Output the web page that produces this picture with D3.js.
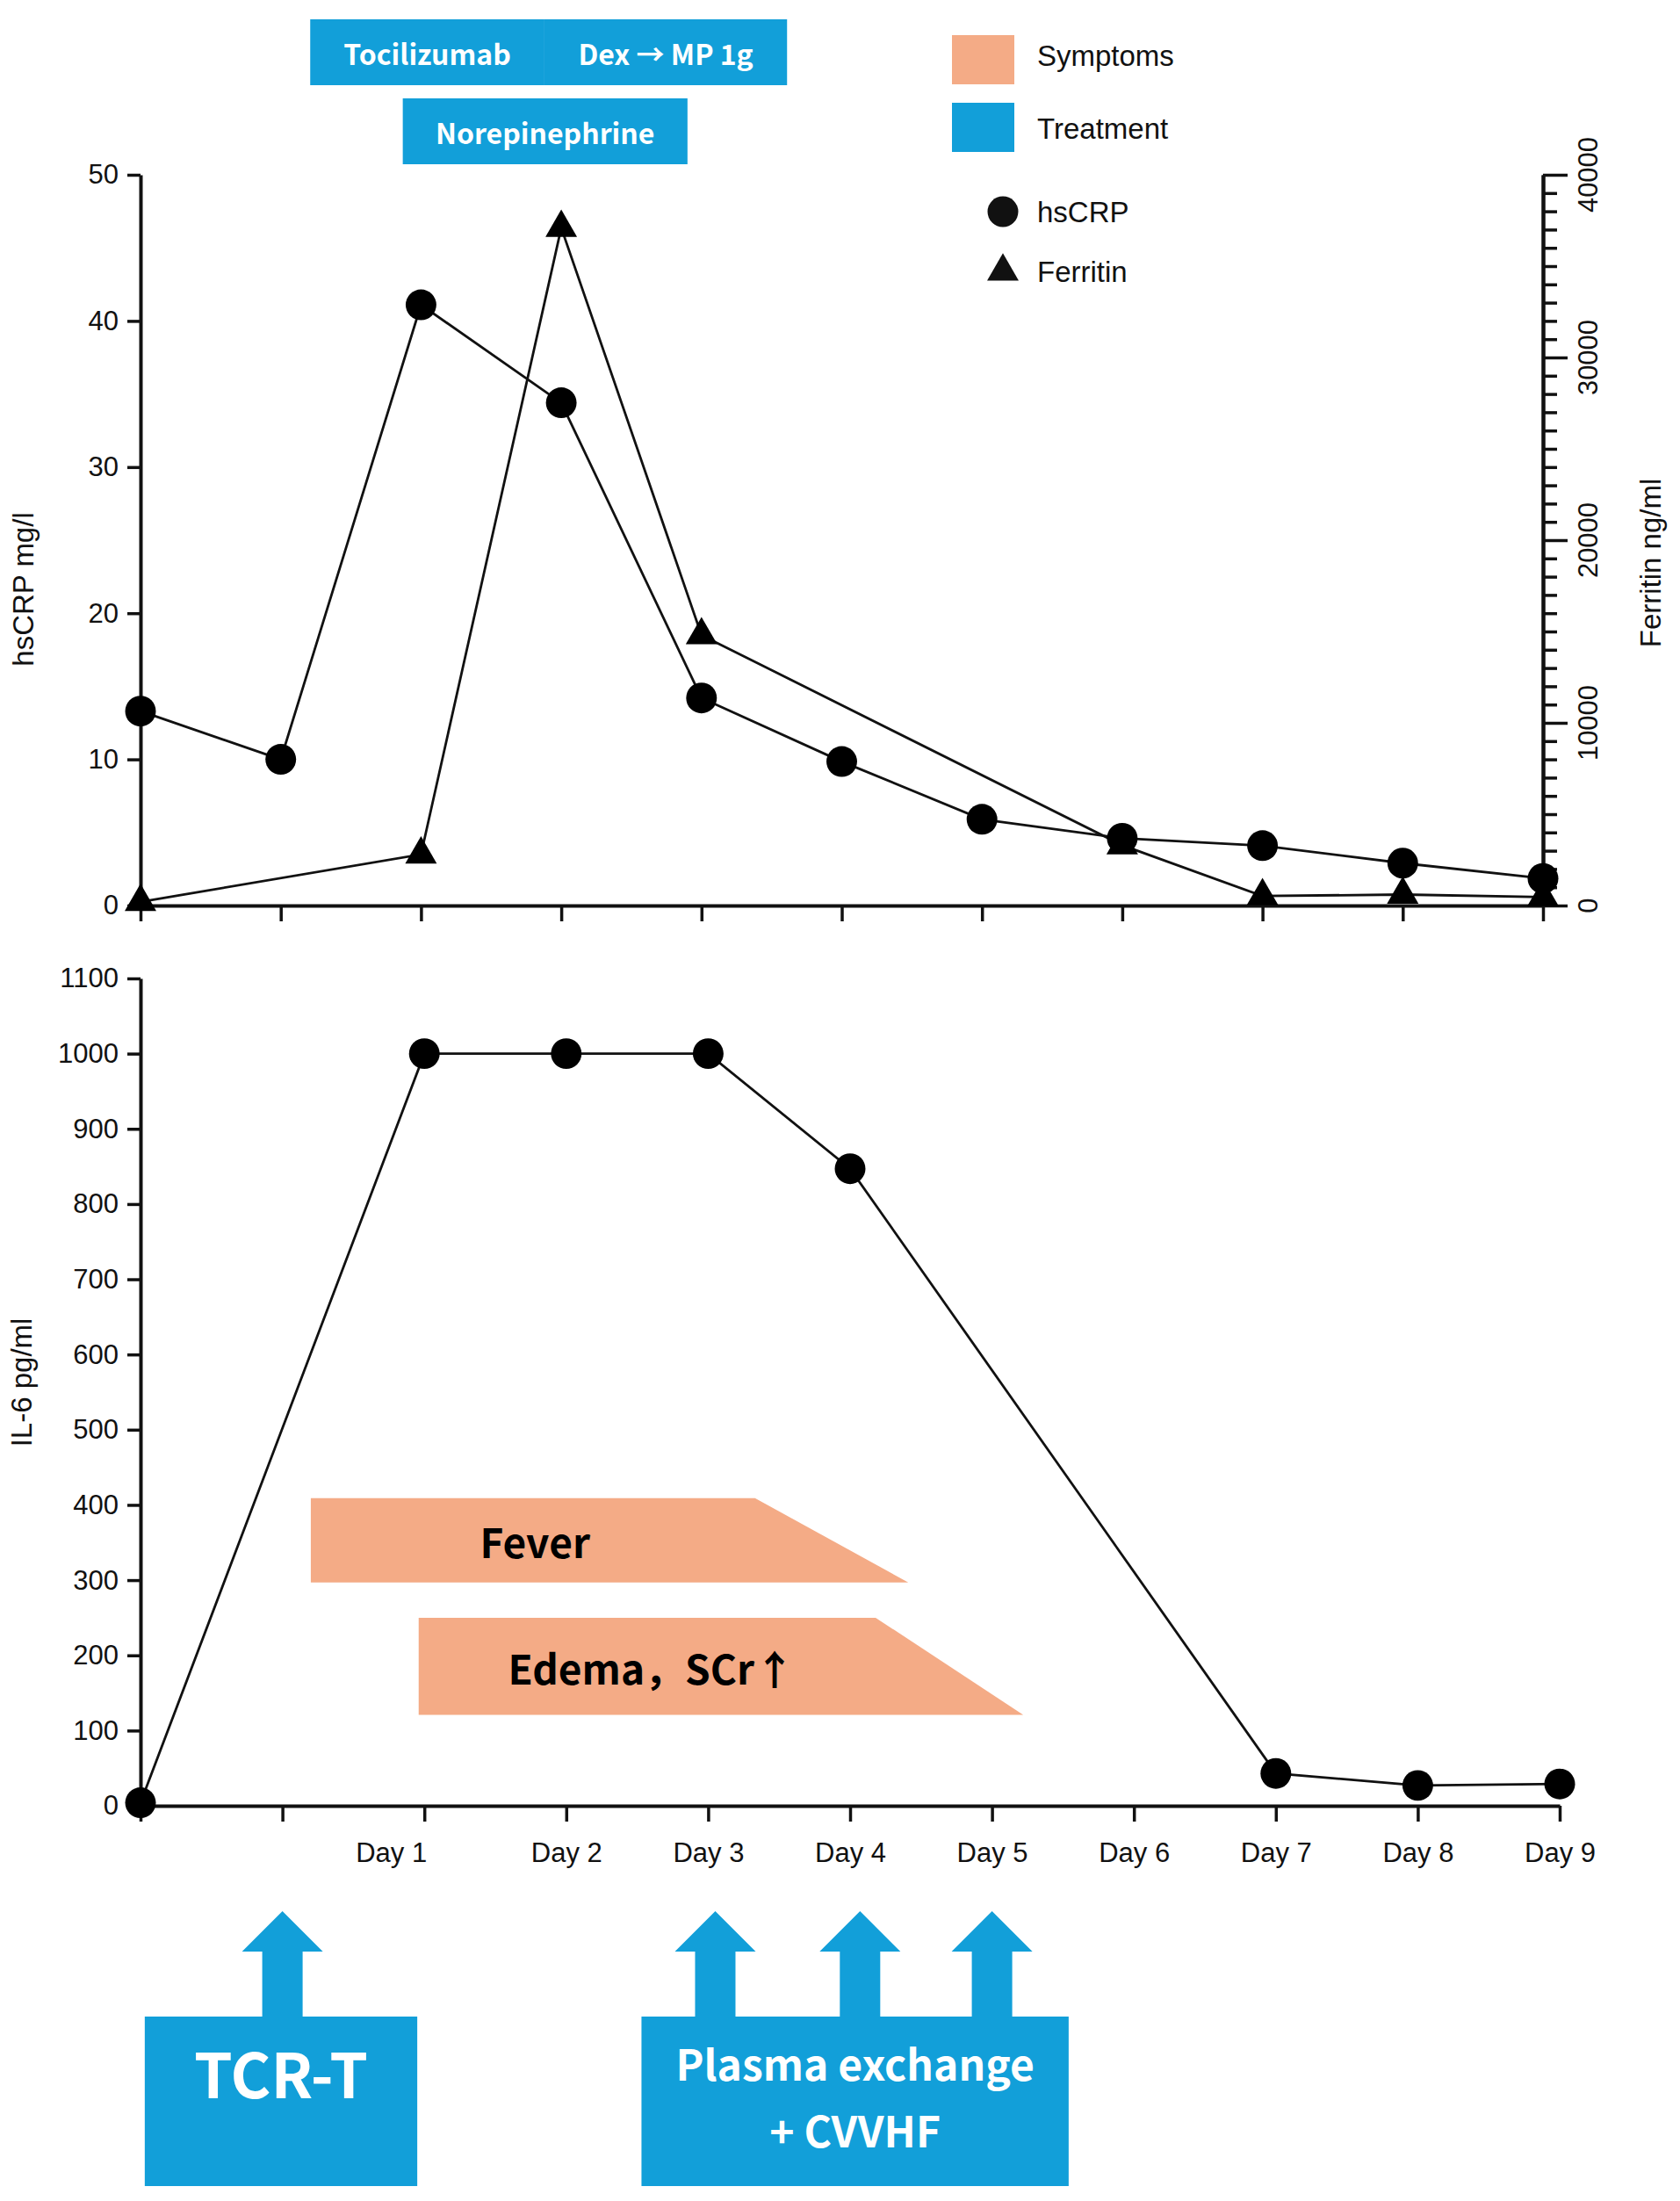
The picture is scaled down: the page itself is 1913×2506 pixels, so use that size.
<!DOCTYPE html>
<html>
<head>
<meta charset="utf-8">
<script src="https://cdn.jsdelivr.net/npm/d3@7"></script>
<style>
  body { margin: 0; background: #fff; }
  svg { display: block; }
  .plain { font-family: "Liberation Sans", Arial, sans-serif; fill: #111; }
  .bold { font-family: "Noto Sans CJK SC", "Noto Sans", sans-serif; font-weight: 700; }
</style>
</head>
<body>
<svg id="chart" width="1913" height="2506"></svg>
<script>
// timepoints: two unlabelled baseline slots, then Day 1..9
const slots = d3.range(11);
const dayLabels = ["", "", "Day 1", "Day 2", "Day 3", "Day 4", "Day 5", "Day 6", "Day 7", "Day 8", "Day 9"];

const hsCRP = [13.3, 10.0, 41.1, 34.4, 14.2, 9.85, 5.9, 4.6, 4.1, 2.9, 1.85];
const ferritin = [200, null, 2800, 37100, 14800, null, null, 3300, 520, 600, 460];
const il6 = [4, null, 1000, 1000, 1000, 847, null, null, 43, 27, 29];

const crpTicks = [0, 10, 20, 30, 40, 50];
const ferritinTicks = [0, 10000, 20000, 30000, 40000];
const il6Ticks = d3.range(0, 1101, 100);

// annotations, in slot units (x) and axis units (y)
const treatments = [
  { label: "Tocilizumab", from: 1.21, to: 2.88, row: 0 },
  { label: "Dex \u2192 MP 1g", from: 2.88, to: 4.61, row: 0 },
  { label: "Norepinephrine", from: 1.87, to: 3.90, row: 1 }
];
const symptoms = [
  { label: "Fever", from: 1.2, flat: 4.33, to: 5.41, low: 297, high: 409, tx: 2.78 },
  { label: "Edema\uFF0CSCr\u2191", from: 1.96, flat: 5.18, to: 6.22, low: 121, high: 250, tx: 3.6 }
];
const procedures = [
  { lines: ["TCR-T"], from: 0.03, to: 1.95, arrows: [1.0] },
  { lines: ["Plasma exchange", "+ CVVHF"], from: 3.53, to: 6.54, arrows: [4.05, 5.07, 6.0] }
];

const blue = "#129fd9", orange = "#f4ab86";
const svg = d3.select("#chart");
svg.append("rect").attr("width", 1913).attr("height", 2506).attr("fill", "#fff");

// ---------- top panel ----------
const xTop = d3.scaleLinear().domain([0, 10]).range([160, 1757]);
const yCrp = d3.scaleLinear().domain([0, 50]).range([1031, 199]);
const yFer = d3.scaleLinear().domain([0, 40000]).range([1031, 199]);

function styleAxis(g, fontSize) {
  g.select(".domain").attr("stroke", "#111").attr("stroke-width", 4);
  g.selectAll(".tick line").attr("stroke", "#111").attr("stroke-width", 3.5);
  g.selectAll(".tick text").attr("class", "plain").style("font-size", fontSize + "px");
}

svg.append("g")
  .attr("transform", "translate(0,1031)")
  .call(d3.axisBottom(xTop).tickValues(slots).tickFormat("").tickSize(18).tickSizeOuter(0))
  .call(g => styleAxis(g, 30));

svg.append("g")
  .attr("transform", "translate(160,0)")
  .call(d3.axisLeft(yCrp).tickValues(crpTicks).tickSize(15).tickSizeOuter(0).tickPadding(10))
  .call(g => styleAxis(g, 31));

// right axis with minor ticks every 1000
const rightAxis = svg.append("g").attr("transform", "translate(1757,0)");
rightAxis.append("g")
  .call(d3.axisRight(yFer).tickValues(d3.range(0, 40001, 1000).filter(v => v % 10000)).tickFormat("").tickSize(16).tickSizeOuter(0))
  .call(g => styleAxis(g, 30));
rightAxis.append("g")
  .call(d3.axisRight(yFer).tickValues(ferritinTicks).tickFormat("").tickSize(28).tickSizeOuter(0))
  .call(g => styleAxis(g, 30));
rightAxis.selectAll("text.flab")
  .data(ferritinTicks)
  .join("text")
  .attr("class", "plain flab")
  .attr("transform", d => `translate(62,${yFer(d)}) rotate(-90)`)
  .attr("text-anchor", "middle")
  .style("font-size", "31px")
  .text(d => d);

const lineCrp = d3.line().defined(d => d != null).x((d, i) => xTop(i)).y(d => yCrp(d));
const fPts = ferritin.map((v, i) => ({ i, v })).filter(d => d.v != null);
svg.append("path").datum(fPts)
  .attr("d", d3.line().x(d => xTop(d.i)).y(d => yFer(d.v)))
  .attr("fill", "none").attr("stroke", "#111").attr("stroke-width", 2.8);
svg.append("path").datum(hsCRP)
  .attr("d", lineCrp)
  .attr("fill", "none").attr("stroke", "#111").attr("stroke-width", 2.8);

const tri = d3.symbol().type(d3.symbolTriangle).size(560);
const dot = d3.symbol().type(d3.symbolCircle).size(960);

svg.selectAll("path.fer")
  .data(fPts).join("path").attr("class", "fer")
  .attr("d", tri).attr("fill", "#000")
  .attr("transform", d => `translate(${xTop(d.i)},${yFer(d.v)})`);
svg.selectAll("path.crp")
  .data(hsCRP).join("path").attr("class", "crp")
  .attr("d", dot).attr("fill", "#000")
  .attr("transform", (d, i) => `translate(${xTop(i)},${yCrp(d)})`);

svg.append("text").attr("class", "plain")
  .attr("transform", "translate(38,671) rotate(-90)")
  .attr("text-anchor", "middle").style("font-size", "33px").text("hsCRP mg/l");
svg.append("text").attr("class", "plain")
  .attr("transform", "translate(1891,641) rotate(-90)")
  .attr("text-anchor", "middle").style("font-size", "33px").text("Ferritin ng/ml");

// treatment boxes above the top panel
const rowY = [22, 112], rowH = 75;
const tg = svg.selectAll("g.treat").data(treatments).join("g").attr("class", "treat");
tg.append("rect")
  .attr("x", d => xTop(d.from)).attr("width", d => xTop(d.to) - xTop(d.from))
  .attr("y", d => rowY[d.row]).attr("height", rowH)
  .attr("fill", blue);
tg.append("text").attr("class", "bold")
  .attr("x", d => (xTop(d.from) + xTop(d.to)) / 2)
  .attr("y", d => rowY[d.row] + rowH / 2 + 3)
  .attr("dy", "0.36em").attr("text-anchor", "middle")
  .attr("fill", "#fff").style("font-size", "32px")
  .text(d => d.label);

// legend
const legend = svg.append("g").attr("class", "plain");
legend.append("rect").attr("x", 1084).attr("y", 40).attr("width", 71).attr("height", 56).attr("fill", orange);
legend.append("rect").attr("x", 1084).attr("y", 117).attr("width", 71).attr("height", 56).attr("fill", blue);
legend.append("path").attr("d", dot).attr("transform", "translate(1142,241)");
legend.append("path").attr("d", tri).attr("transform", "translate(1142,309)");
[["Symptoms", 63], ["Treatment", 146], ["hsCRP", 241], ["Ferritin", 309]].forEach(([t, y]) => {
  legend.append("text").attr("class", "plain").attr("x", 1181).attr("y", y)
    .attr("dy", "0.36em").style("font-size", "33px").text(t);
});

// ---------- bottom panel ----------
const xBot = d3.scaleLinear().domain([0, 10]).range([160, 1776]);
const yIl6 = d3.scaleLinear().domain([0, 1100]).range([2056, 1114]);

// symptom bands sit behind the line
const sg = svg.selectAll("g.sym").data(symptoms).join("g").attr("class", "sym");
sg.append("path")
  .attr("d", d => `M${xBot(d.from)},${yIl6(d.high)}H${xBot(d.flat)}L${xBot(d.to)},${yIl6(d.low)}H${xBot(d.from)}Z`)
  .attr("fill", orange);
sg.append("text").attr("class", "bold")
  .attr("x", d => xBot(d.tx)).attr("y", d => (yIl6(d.high) + yIl6(d.low)) / 2 + 4)
  .attr("dy", "0.36em").attr("text-anchor", "middle")
  .attr("fill", "#000").style("font-size", "46px")
  .text(d => d.label);

svg.append("g")
  .attr("transform", "translate(0,2056)")
  .call(d3.axisBottom(xBot).tickValues(slots).tickFormat(i => dayLabels[i]).tickSize(18).tickSizeOuter(0).tickPadding(24))
  .call(g => styleAxis(g, 31))
  // the "Day 1" label sits a little left of its tick in the original
  .call(g => g.selectAll(".tick text").filter(i => i === 2).attr("dx", -38));

svg.append("g")
  .attr("transform", "translate(160,0)")
  .call(d3.axisLeft(yIl6).tickValues(il6Ticks).tickFormat(d3.format("d")).tickSize(15).tickSizeOuter(0).tickPadding(10))
  .call(g => styleAxis(g, 31));

const iPts = il6.map((v, i) => ({ i, v })).filter(d => d.v != null);
svg.append("path").datum(iPts)
  .attr("d", d3.line().x(d => xBot(d.i)).y(d => yIl6(d.v)))
  .attr("fill", "none").attr("stroke", "#111").attr("stroke-width", 2.8);
svg.selectAll("path.il6")
  .data(iPts).join("path").attr("class", "il6")
  .attr("d", dot).attr("fill", "#000")
  .attr("transform", d => `translate(${xBot(d.i)},${yIl6(d.v)})`);

svg.append("text").attr("class", "plain")
  .attr("transform", "translate(36,1574) rotate(-90)")
  .attr("text-anchor", "middle").style("font-size", "33px").text("IL-6 pg/ml");

// procedure boxes with up arrows
const boxTop = 2296, boxBottom = 2489;
function arrowPath(cx) {
  const tip = 2176, neck = 2222, hw = 46, sw = 23;
  return `M${cx},${tip}L${cx + hw},${neck}H${cx + sw}V${boxTop + 2}H${cx - sw}V${neck}H${cx - hw}Z`;
}
const pg = svg.selectAll("g.proc").data(procedures).join("g").attr("class", "proc");
pg.append("rect")
  .attr("x", d => xBot(d.from)).attr("width", d => xBot(d.to) - xBot(d.from))
  .attr("y", boxTop).attr("height", boxBottom - boxTop)
  .attr("fill", blue);
pg.selectAll("path")
  .data(d => d.arrows).join("path")
  .attr("d", a => arrowPath(xBot(a)))
  .attr("fill", blue);
pg.each(function (d) {
  const cx = (xBot(d.from) + xBot(d.to)) / 2;
  const one = d.lines.length === 1;
  d3.select(this).selectAll("text")
    .data(d.lines).join("text").attr("class", "bold")
    .attr("x", cx)
    .attr("y", (t, k) => one ? 2364 : 2352 + k * 76)
    .attr("dy", "0.36em").attr("text-anchor", "middle")
    .attr("fill", "#fff").style("font-size", one ? "70px" : "48px")
    .text(t => t);
});
</script>
</body>
</html>
